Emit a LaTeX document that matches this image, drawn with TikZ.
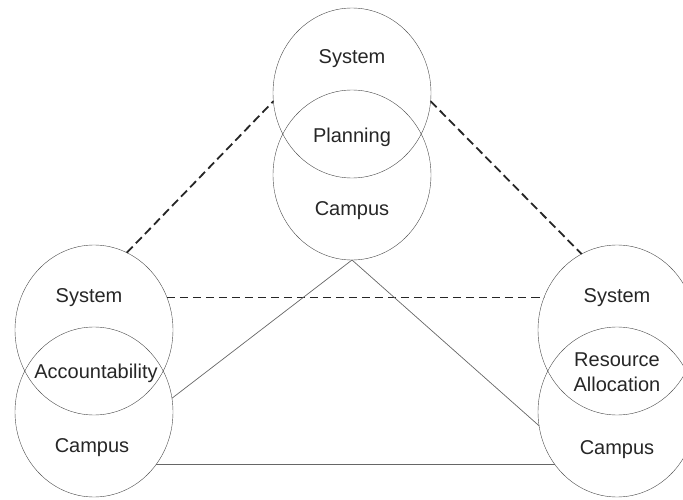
\documentclass[tikz,border=0pt]{standalone}
\usepackage{fontspec}
\setmainfont{Liberation Sans}
\usetikzlibrary{positioning,shapes.geometric}

\begin{document}
\begin{tikzpicture}[x=1pt,y=-1pt,
    ring/.style={draw=black!70,
        ellipse,
        inner sep=0pt,
        outer sep=0pt,
        minimum width=158pt,
        minimum height=170pt},
    word/.style={text=black!85,
        font=\fontsize{20}{25}\selectfont,
        align=center},
    link/.style={draw=black!60, line width=0.7pt},
    dashlink/.style={draw=black!85, line width=1.8pt,
        dash pattern=on 8.5pt off 4.5pt}]

    \useasboundingbox (0,0) rectangle (683,500);
    \clip (0,0) rectangle (683,500);

    % Planning pair
    \node[ring] (sysP) at (352,93) {};
    \node[ring, below=-88pt of sysP] (camP) {};

    % Accountability pair
    \node[ring] (sysA) at (94,330) {};
    \node[ring, below=-88pt of sysA] (camA) {};

    % Resource allocation pair
    \node[ring] (sysR) at (617,330) {};
    \node[ring, below=-88pt of sysR] (camR) {};

    % Labels
    \node[word] (sysPtxt) at (352,59) {System};
    \node[word] (planP) at (352,137) {Planning};
    \node[word] (camPtxt) at (352,211) {Campus};

    \node[word] (sysAtxt) at (89,298) {System};
    \node[word] (accA) at (96,373) {Accountability};
    \node[word] (camAtxt) at (92,448) {Campus};

    \node[word] (sysRtxt) at (617,298) {System};
    \node[word] (resR) at (617,372) {Resource\\Allocation};
    \node[word] (camRtxt) at (617,450) {Campus};

    % System links
    \draw[dashlink] (sysA.67) -- (sysP.186);
    \draw[dashlink] (sysP.354) -- (sysR.115);
    \draw[dashlink] (sysA.24) -- (sysR.156);

    % Campus links
    \draw[link] (camP.south) -- (camA.10);
    \draw[link] (camP.south) -- (camR.190);
    \draw[link] (camA.320) -- (camR.220);

\end{tikzpicture}
\end{document}
